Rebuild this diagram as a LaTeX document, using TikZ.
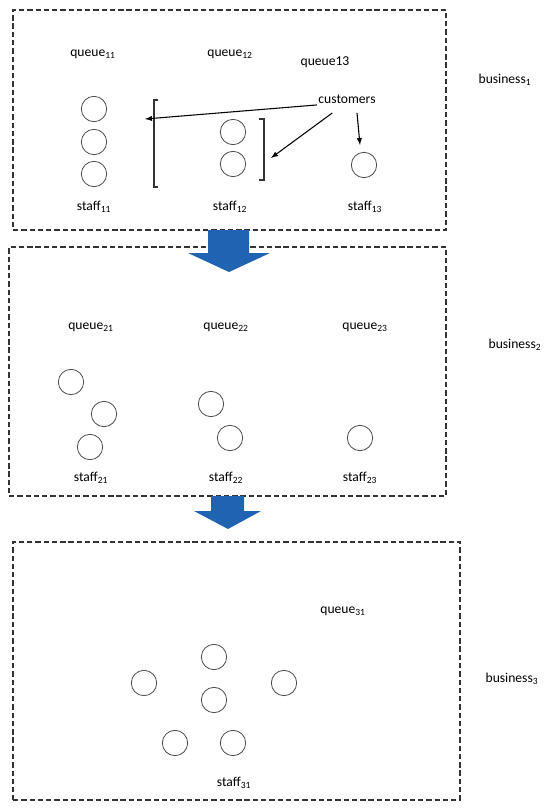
\documentclass[tikz,border=0pt]{standalone}
\usepackage{fontspec}
\setmainfont{Carlito}
\usepackage{tikz}
\usetikzlibrary{arrows}

\definecolor{flowblue}{RGB}{31,99,178}

\begin{document}
\begin{tikzpicture}
	[x=0.75pt,y=-0.75pt,
	 lab/.style={inner sep=1pt,font=\fontsize{10.2}{12}\selectfont},
	 panel/.style={draw=black!80,line width=0.8pt,dash pattern=on 4pt off 2.2pt,inner sep=0pt},
	 pers/.style={circle,draw=black!70,line width=0.6pt,minimum size=19pt,inner sep=0pt},
	 bracket/.style={draw=black!80,line width=0.8pt},
	 custarrow/.style={-latex,line width=0.8pt},
	 flow/.style={fill=flowblue,draw=none}]
\useasboundingbox (0,0) rectangle (550,809);
% the three businesses
\node[panel,minimum width=324.75pt,minimum height=165pt] (bus1) at (229.5,120) {};
\node[panel,minimum width=327.75pt,minimum height=186.75pt] (bus2) at (227.5,371.5) {};
\node[panel,minimum width=335.25pt,minimum height=193.5pt] (bus3) at (236.5,671) {};
\node[lab] (b1) at (505,80) {business\textsubscript{1}};
\node[lab] (b2) at (515,345) {business\textsubscript{2}};
\node[lab] (b3) at (512,679) {business\textsubscript{3}};
% business 1
\node[lab] (q11) at (93,54) {queue\textsubscript{11}};
\node[lab] (q12) at (230,54) {queue\textsubscript{12}};
\node[lab] (q13) at (325,62) {queue13};
\node[lab] (cust) at (347,99) {customers};
\node[lab] (s11) at (94,207) {staff\textsubscript{11}};
\node[lab] (s12) at (230,207) {staff\textsubscript{12}};
\node[lab] (s13) at (365,207) {staff\textsubscript{13}};
\foreach \y [count=\i] in {109,142,174}
	\node[pers] (p11\i) at (94,\y) {};
\foreach \y [count=\i] in {132,164}
	\node[pers] (p12\i) at (233,\y) {};
\node[pers] (p131) at (364,165) {};
\draw[bracket] (158,100) -- (154,100) -- (154,187) -- (158,187);
\draw[bracket] (259,119) -- (264,119) -- (264,180) -- (259,180);
\coordinate (in11) at (145,119);
\coordinate (in12) at (271,158);
\coordinate (in13) at (360,145);
\draw[custarrow] (cust.south west) -- (in11);
\draw[custarrow] ([xshift=-11pt,yshift=-6pt]cust.south) -- (in12);
\draw[custarrow] ([xshift=7.5pt,yshift=-6pt]cust.south) -- (in13);
% business 2
\node[lab] (q21) at (91,327) {queue\textsubscript{21}};
\node[lab] (q22) at (226,327) {queue\textsubscript{22}};
\node[lab] (q23) at (365,327) {queue\textsubscript{23}};
\node[lab] (s21) at (91,478) {staff\textsubscript{21}};
\node[lab] (s22) at (226,478) {staff\textsubscript{22}};
\node[lab] (s23) at (360,478) {staff\textsubscript{23}};
\foreach \x/\y [count=\i] in {71/382,104/414,90/447}
	\node[pers] (p21\i) at (\x,\y) {};
\foreach \x/\y [count=\i] in {211/404,230/438}
	\node[pers] (p22\i) at (\x,\y) {};
\node[pers] (p231) at (360,438) {};
% business 3
\node[lab] (q31) at (343,611) {queue\textsubscript{31}};
\node[lab] (s31) at (234,783) {staff\textsubscript{31}};
\foreach \x/\y [count=\i] in {214/657,144/683,284/683,214/700,175/743,233/743}
	\node[pers] (p31\i) at (\x,\y) {};
% flow between businesses
\fill[flow] (208,230) -- (249,230) -- (249,253) -- (270,253) -- (229,272)
	-- (188,253) -- (208,253) -- cycle;
\fill[flow] (211,496) -- (244,496) -- (244,511) -- (261,511) -- (228,529)
	-- (194,511) -- (211,511) -- cycle;
\end{tikzpicture}
\end{document}
